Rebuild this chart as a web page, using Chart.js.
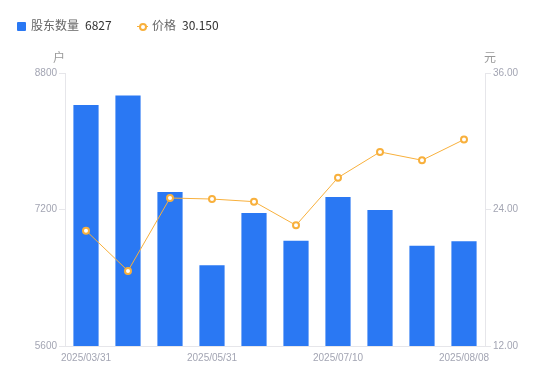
<!DOCTYPE html>
<html><head><meta charset="utf-8">
<script src="https://cdn.jsdelivr.net/npm/chart.js@4/dist/chart.umd.min.js"></script>
<style>
html,body{margin:0;padding:0;background:#fff;}
#wrap{position:relative;width:550px;height:381px;}
canvas{position:absolute;left:0;top:0;}
.lg{position:absolute;top:16px;height:17px;line-height:17px;font-family:"Noto Sans CJK SC","Noto Sans",sans-serif;font-size:12px;white-space:nowrap;}
.lg .lab{color:#666;}
.lg .val{color:#333;margin-left:6px;}
.unit{position:absolute;top:48px;font-family:"Noto Sans CJK SC",sans-serif;font-size:12px;color:#999;line-height:17px;}
</style></head>
<body>
<div id="wrap">
<canvas id="c" width="550" height="381"></canvas>
<div class="lg" style="left:17px;"><span style="display:inline-block;width:9px;height:9px;background:#2a78f3;border-radius:1px;vertical-align:-1px;margin-right:5px;"></span><span class="lab">股东数量</span><span class="val" id="v1"></span></div>
<div class="lg" style="left:137px;"><span style="display:inline-block;position:relative;width:11px;height:9px;vertical-align:-1px;margin-right:4px;"><span style="position:absolute;left:0;top:4px;width:11px;height:1px;background:#f8b03c;"></span><span style="position:absolute;left:2px;top:1px;width:4px;height:4px;border:2px solid #f8b03c;border-radius:50%;background:#fff;"></span></span><span class="lab">价格</span><span class="val" id="v2"></span></div>
<div class="unit" style="left:53px;">户</div>
<div class="unit" style="left:484px;">元</div>
</div>
<script>
const categories = ["2025/03/31","2025/04/10","2025/04/30","2025/05/31","2025/06/10","2025/06/20","2025/07/10","2025/07/20","2025/07/31","2025/08/08"];
const holders = [8425, 8535, 7405, 6546, 7159, 6835, 7347, 7194, 6776, 6827];
const prices = [22.14, 18.60, 25.01, 24.92, 24.69, 22.61, 26.80, 29.06, 28.33, 30.15];
const leftTicks = [5600, 7200, 8800];
const rightTicks = [12, 24, 36];

document.getElementById('v1').textContent = holders[holders.length-1];
document.getElementById('v2').textContent = prices[prices.length-1].toFixed(3);

const tickColor = '#a3a5b3';
const lineColor = '#e6e6ea';
const tickFont = {family: '"Liberation Sans", Arial, sans-serif', size: 10};

new Chart(document.getElementById('c'), {
  data: {
    labels: categories,
    datasets: [
      {type:'line', label:'价格', data: prices, yAxisID:'y1', order:0,
       borderColor:'#f8b03c', borderWidth:1, backgroundColor:'#fff',
       pointRadius:3, pointBorderWidth:2, pointBackgroundColor:'#fff', pointBorderColor:'#f8b03c', tension:0},
      {type:'bar', label:'股东数量', data: holders, yAxisID:'y', order:1,
       backgroundColor:'#2a78f3', borderWidth:0, barPercentage:0.6, categoryPercentage:1}
    ]
  },
  options: {
    responsive:false, animation:false,
    layout:{padding:{top:73, left:0, right:0, bottom:0}},
    plugins:{legend:{display:false}, tooltip:{enabled:false}},
    scales:{
      x:{
        grid:{display:false, drawTicks:false},
        border:{display:true, color:lineColor},
        ticks:{autoSkip:false, maxRotation:0, color:tickColor, font:tickFont, padding:6,
          callback:function(v,i){return i%3===0 ? categories[i] : '';}},
        afterFit:function(s){s.height=35;}
      },
      y:{
        position:'left', min:leftTicks[0], max:leftTicks[2],
        afterBuildTicks:function(s){s.ticks = leftTicks.map(v=>({value:v}));},
        grid:{drawOnChartArea:false, drawTicks:true, tickLength:6, color:lineColor},
        border:{display:true, color:lineColor},
        ticks:{color:tickColor, font:tickFont, padding:2, callback:v=>String(v)},
        afterFit:function(s){s.width=65;}
      },
      y1:{
        position:'right', min:rightTicks[0], max:rightTicks[2],
        afterBuildTicks:function(s){s.ticks = rightTicks.map(v=>({value:v}));},
        grid:{drawOnChartArea:false, drawTicks:true, tickLength:6, color:lineColor},
        border:{display:true, color:lineColor},
        ticks:{color:tickColor, font:tickFont, padding:2, callback:v=>Number(v).toFixed(2)},
        afterFit:function(s){s.width=65;}
      }
    }
  }
});
</script>
</body></html>
